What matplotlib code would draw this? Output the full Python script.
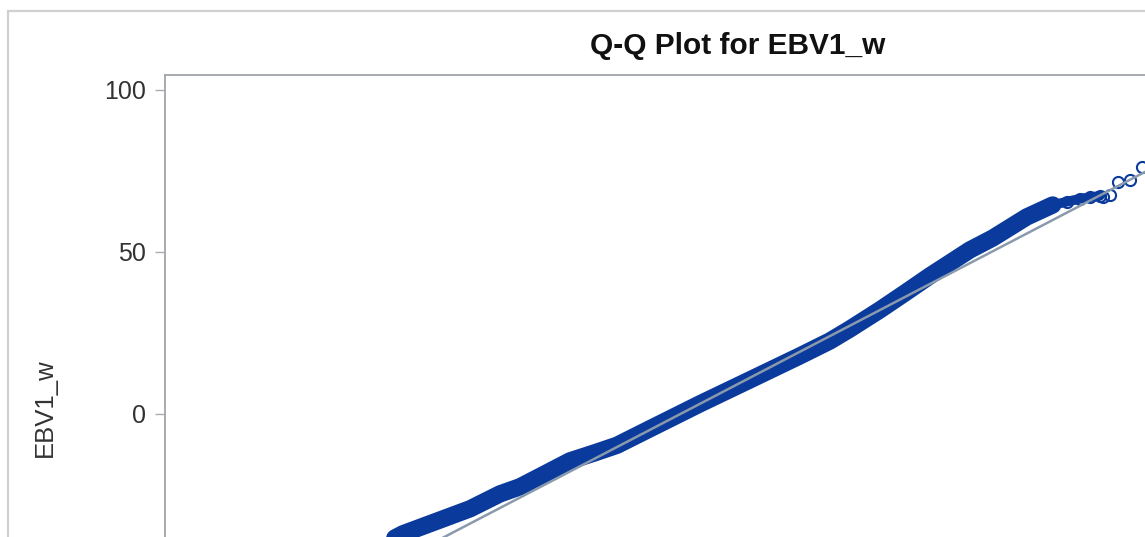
import numpy as np
from matplotlib import pyplot as plt
from matplotlib.patches import Rectangle

# normal quantiles (x) and sorted EBV1_w values (y)
dense_q = [-2.385, -2.208, -2.0, -1.692, -1.462, -1.308, -1.115, -0.923, -0.731,
           -0.562, -0.308, 0.077, 0.462, 0.846, 1.077, 1.231, 1.462, 1.654,
           1.846, 2.154, 2.331, 2.592, 2.792]
dense_v = [-40.7, -37.0, -33.9, -29.3, -24.7, -22.5, -18.5, -14.5, -12.0,
           -9.7, -4.6, 3.1, 10.5, 17.9, 22.5, 26.2, 32.1, 37.3,
           42.6, 50.6, 54.3, 60.8, 64.5]
upper_q = [2.792, 2.9, 3.0, 3.08, 3.154]
upper_v = [64.5, 65.5, 66.4, 66.9, 67.3]
tail_q = [3.177, 3.231, 3.292, 3.385, 3.477]
tail_v = [67.0, 67.6, 71.6, 72.2, 76.2]

# normal reference line parameters
mu = 1.5
sigma = 20.9
line_q = [-3.6, 3.6]

y_ticks = [0, 50, 100]

plt.rcParams['font.family'] = ['Liberation Sans', 'DejaVu Sans']

fig = plt.figure(figsize=(11.45, 5.37), dpi=100)
# plot area runs off the right and bottom edge of the picture (cropped chart)
ax = fig.add_axes([165 / 1145, 1 - 673 / 537, 1146 / 1145, (673 - 75) / 537])

blue = '#0A3A9C'
ax.plot(dense_q, dense_v, color=blue, lw=12.5, solid_capstyle='round',
        solid_joinstyle='round', zorder=2)
ax.plot(upper_q, upper_v, color=blue, lw=7, solid_capstyle='round', zorder=2)
ax.plot(dense_q + upper_q + tail_q, dense_v + upper_v + tail_v, ls='none',
        marker='o', ms=8, mfc='none', mec=blue, mew=1.5, zorder=3)

ref = [mu + sigma * q for q in line_q]
ax.plot(line_q, ref, color='#8A9AAD', lw=1.8, zorder=4)

ax.set_xlim(-4.04, 4.78)
ax.set_ylim(-80, 104.63)
ax.set_yticks(y_ticks)
ax.set_xticks([])
ax.tick_params(axis='y', length=7, width=1, color='#A8ACB0', pad=7,
               labelsize=18, labelcolor='#333333')
for side in ['left', 'top']:
    ax.spines[side].set_color('#A0A5AA')
    ax.spines[side].set_linewidth(1.3)
for side in ['right', 'bottom']:
    ax.spines[side].set_visible(False)

fig.text(738 / 1145, 1 - 46 / 537, 'Q-Q Plot for EBV1_w', ha='center', va='center',
         fontsize=21.5, fontweight='bold', color='#111111')
fig.text(45 / 1145, 1 - 408 / 537, 'EBV1_w', ha='center', va='center', rotation=90,
         fontsize=18.5, color='#333333')

# outer graph border
fig.patches.append(Rectangle((8 / 1145, -0.5), 2.0, 1.5 - 11 / 537,
                             transform=fig.transFigure, fill=False,
                             edgecolor='#D0D0D0', lw=1.6))

plt.savefig('out.png', dpi=100)
